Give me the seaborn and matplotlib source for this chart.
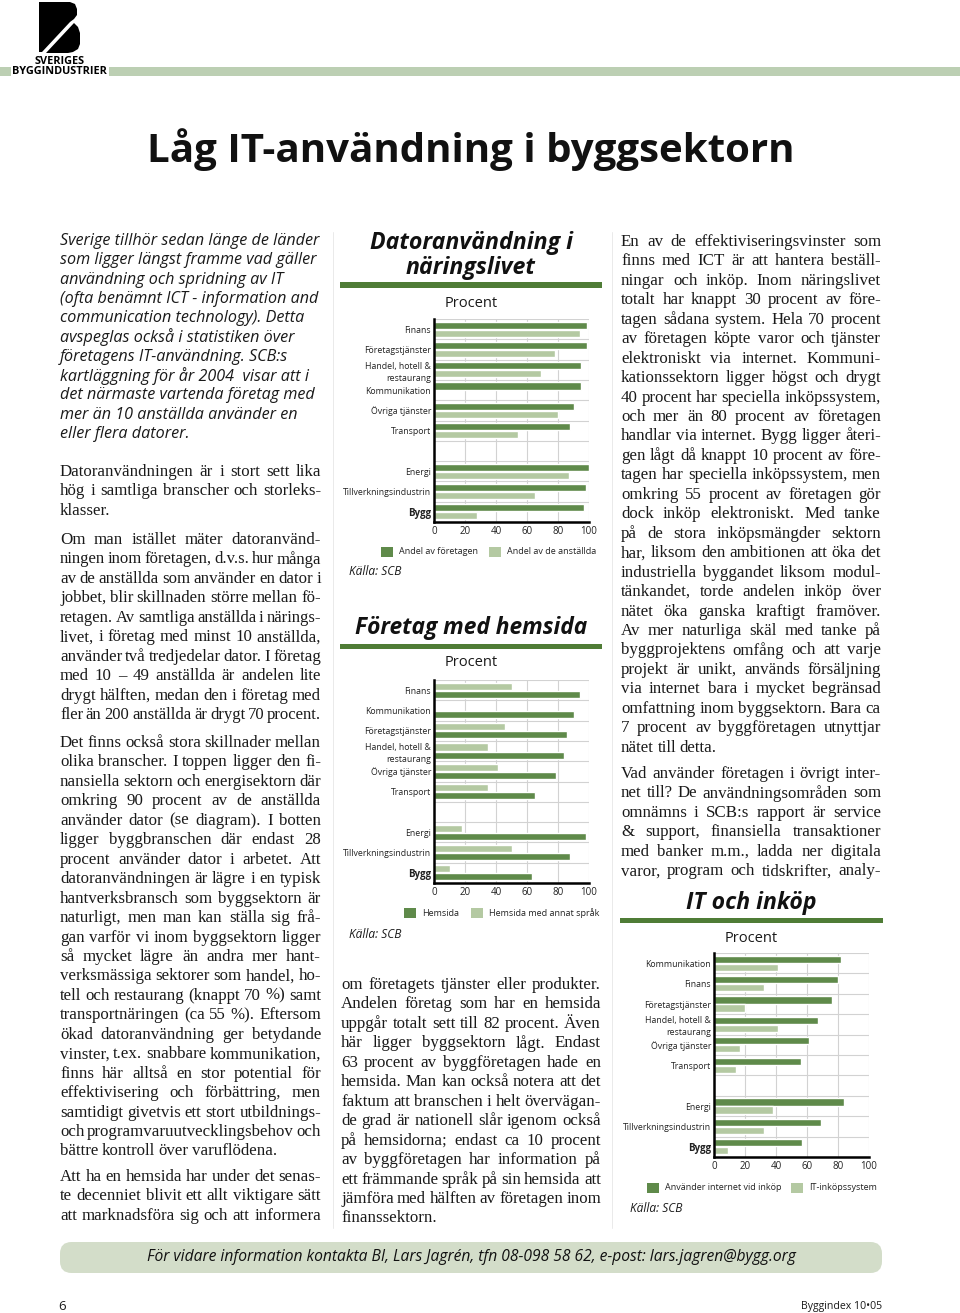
"""Låg IT-användning i byggsektorn: sida med tre stapeldiagram."""

import matplotlib

matplotlib.use("Agg")
import matplotlib.pyplot as plt
from matplotlib.patches import FancyBboxPatch, Polygon, Rectangle
import pandas as pd
import seaborn as sns

W, H = 960, 1313
MORK = "#5f8a4a"
LJUS = "#b4c9a2"
RUBRIKLINJE = "#4f7c36"
BAND = "#bccfb3"
RUTA = "#d3ddc9"
TEXTFARG = "#1a1a1a"
SANS = ["Open Sans", "DejaVu Sans"]
SERIF = ["Liberation Serif", "DejaVu Serif"]

# --- data ---
DATOR_KAT = ["Finans", "Företagstjänster", "Handel, hotell &\nrestaurang", "Kommunikation",
             "Övriga tjänster", "Transport", "Energi", "Tillverkningsindustrin", "Bygg"]
DATOR_FORETAG = [99, 99, 95, 95, 90, 88, 100, 98, 97]
DATOR_ANSTALLDA = [94, 78, 69, None, 80, 54, 87, 65, 28]

HEMSIDA_KAT = ["Finans", "Kommunikation", "Företagstjänster", "Handel, hotell &\nrestaurang",
               "Övriga tjänster", "Transport", "Energi", "Tillverkningsindustrin", "Bygg"]
HEMSIDA = [94, 90, 86, 84, 79, 65, 98, 88, 63]
HEMSIDA_SPRAK = [50, None, 46, 35, 41, 35, 18, 50, 10]

INKOP_KAT = ["Kommunikation", "Finans", "Företagstjänster", "Handel, hotell &\nrestaurang",
             "Övriga tjänster", "Transport", "Energi", "Tillverkningsindustrin", "Bygg"]
INKOP_INTERNET = [82, 80, 76, 67, 61, 56, 84, 69, 57]
INKOP_SYSTEM = [41, 32, 20, 41, 17, 14, 38, 32, 9]

XTICKS = [0, 20, 40, 60, 80, 100]

# --- brödtext ---
INGRESS = [
    "Sverige tillhör sedan länge de länder",
    "som ligger längst framme vad gäller",
    "användning och spridning av IT",
    "(ofta benämnt ICT - information and",
    "communication technology). Detta",
    "avspeglas också i statistiken över",
    "företagens IT-användning. SCB:s",
    "kartläggning för år 2004  visar att i",
    "det närmaste vartenda företag med",
    "mer än 10 anställda använder en",
    "eller flera datorer.",
]

VANSTER = [
    (472, [
        "Datoranvändningen är i stort sett lika",
        "hög i samtliga branscher och storleks-",
        "klasser.",
    ], True),
    (540, [
        "Om man istället mäter datoranvänd-",
        "ningen inom företagen, d.v.s. hur många",
        "av de anställda som använder en dator i",
        "jobbet, blir skillnaden större mellan fö-",
        "retagen. Av samtliga anställda i närings-",
        "livet, i företag med minst 10 anställda,",
        "använder två tredjedelar dator. I företag",
        "med 10 – 49 anställda är andelen lite",
        "drygt hälften, medan den i företag med",
        "fler än 200 anställda är drygt 70 procent.",
    ], True),
    (743, [
        "Det finns också stora skillnader mellan",
        "olika branscher. I toppen ligger den fi-",
        "nansiella sektorn och energisektorn där",
        "omkring 90 procent av de anställda",
        "använder dator (se diagram). I botten",
        "ligger byggbranschen där endast 28",
        "procent använder dator i arbetet.  Att",
        "datoranvändningen är lägre i en typisk",
        "hantverksbransch som byggsektorn är",
        "naturligt, men man kan ställa sig frå-",
        "gan varför vi inom byggsektorn ligger",
        "så mycket lägre än andra mer hant-",
        "verksmässiga sektorer som handel, ho-",
        "tell och restaurang (knappt 70 %) samt",
        "transportnäringen (ca 55 %). Eftersom",
        "ökad datoranvändning ger betydande",
        "vinster, t.ex. snabbare kommunikation,",
        "finns här alltså en stor potential för",
        "effektivisering och förbättring, men",
        "samtidigt givetvis ett stort utbildnings-",
        "och programvaruutvecklingsbehov och",
        "bättre kontroll över varuflödena.",
    ], True),
    (1177, [
        "Att ha en hemsida har under det senas-",
        "te decenniet blivit ett allt viktigare sätt",
        "att marknadsföra sig och att informera",
    ], False),
]

MITTEN = [
    (985, [
        "om företagets tjänster eller produkter.",
        "Andelen företag som har en hemsida",
        "uppgår totalt sett till 82 procent. Även",
        "här ligger byggsektorn lågt. Endast",
        "63 procent av byggföretagen hade en",
        "hemsida. Man kan också notera att det",
        "faktum att branschen i helt övervägan-",
        "de grad är nationell slår igenom också",
        "på hemsidorna; endast ca 10 procent",
        "av byggföretagen har information på",
        "ett främmande språk på sin hemsida att",
        "jämföra med hälften av företagen inom",
        "finanssektorn.",
    ], True),
]

HOGER = [
    (242, [
        "En av de effektiviseringsvinster som",
        "finns med ICT är att hantera beställ-",
        "ningar och inköp. Inom näringslivet",
        "totalt har knappt 30 procent av före-",
        "tagen sådana system. Hela 70 procent",
        "av företagen köpte varor och tjänster",
        "elektroniskt via internet. Kommuni-",
        "kationssektorn ligger högst och drygt",
        "40 procent har speciella inköpssystem,",
        "och mer än 80 procent av företagen",
        "handlar via internet. Bygg ligger återi-",
        "gen lågt då knappt 10 procent av före-",
        "tagen har speciella inköpssystem, men",
        "omkring 55 procent av företagen gör",
        "dock inköp elektroniskt. Med tanke",
        "på de stora inköpsmängder sektorn",
        "har, liksom den ambitionen att öka det",
        "industriella byggandet liksom modul-",
        "tänkandet, torde andelen inköp över",
        "nätet öka ganska kraftigt framöver.",
        "Av mer naturliga skäl med tanke på",
        "byggprojektens omfång och att varje",
        "projekt är unikt, används försäljning",
        "via internet bara i mycket begränsad",
        "omfattning inom byggsektorn. Bara ca",
        "7 procent av byggföretagen utnyttjar",
        "nätet till detta.",
    ], True),
    (774, [
        "Vad använder företagen i övrigt inter-",
        "net till? De användningsområden som",
        "omnämns i SCB:s rapport är service",
        "& support, finansiella transaktioner",
        "med banker m.m., ladda ner digitala",
        "varor, program och tidskrifter, analy-",
    ], False),
]

RADAVSTAND = 19.45
BRODSTORLEK = 12.2
MIN_MELLAN = 2.8

sns.set_style("white")
plt.rcParams["font.family"] = SANS

fig = plt.figure(figsize=(W / 100, H / 100), dpi=100)
fig.patch.set_facecolor("white")
renderer = fig.canvas.get_renderer()


def fy(y):
    return 1 - y / H


def text(x, y, s, **kw):
    kw.setdefault("color", TEXTFARG)
    kw.setdefault("va", "center")
    return fig.text(x / W, fy(y), s, **kw)


def anpassad_text(x, y, s, bredd, **kw):
    t = text(x, y, s, **kw)
    b = t.get_window_extent(renderer).width
    t.set_fontsize(t.get_fontsize() * bredd / b)
    return t


def rektangel(x0, y0, x1, y1, farg, **kw):
    fig.add_artist(Rectangle((x0 / W, fy(y1)), (x1 - x0) / W, (y1 - y0) / H,
                             transform=fig.transFigure, facecolor=farg,
                             edgecolor="none", **kw))


def justerad_rad(x0, x1, y, rad, justera):
    ord_ = rad.split()
    stil = dict(family=SERIF, fontsize=BRODSTORLEK, ha="left")
    texter = [text(x0, y, o, **stil) for o in ord_]
    bredder = [t.get_window_extent(renderer).width for t in texter]
    mellanrum = max(len(ord_) - 1, 1)
    mellan = (x1 - x0 - sum(bredder)) / mellanrum
    if mellan < MIN_MELLAN:
        skala = (x1 - x0 - MIN_MELLAN * mellanrum) / sum(bredder)
        for t in texter:
            t.set_fontsize(BRODSTORLEK * skala)
        bredder = [b * skala for b in bredder]
        mellan = MIN_MELLAN
    if not justera:
        mellan = min(mellan, 3.6)
    x = x0
    for t, b in zip(texter, bredder):
        t.set_x(x / W)
        x += b + mellan


def kolumn(x0, x1, stycken):
    for y_start, rader, sista_slut in stycken:
        for i, rad in enumerate(rader):
            sista = i == len(rader) - 1
            justerad_rad(x0, x1, y_start + i * RADAVSTAND, rad,
                         not (sista and sista_slut))


def rita_diagram(pos, kategorier, serier, ordning_serier):
    vanster, topp, hoger, botten = pos
    ax = fig.add_axes([vanster / W, fy(botten), (hoger - vanster) / W, (botten - topp) / H])
    ordning = kategorier[:6] + [" "] + kategorier[6:]
    rader = []
    for namn, (varden, _) in serier.items():
        for kat, v in zip(kategorier, varden):
            if v is not None:
                rader.append({"kategori": kat, "serie": namn, "procent": v})
    df = pd.DataFrame(rader)
    farger = {namn: farg for namn, (_, farg) in serier.items()}
    sns.barplot(data=df, x="procent", y="kategori", hue="serie", order=ordning,
                hue_order=ordning_serier, palette=farger, orient="h", width=0.8,
                gap=0.12, saturation=1, errorbar=None, legend=False, ax=ax, zorder=2)
    ax.set_xlim(0, 100)
    ax.set_ylim(len(ordning) - 0.5, -0.5)
    for x in XTICKS[1:]:
        ax.axvline(x, color="#d2d2d2", lw=0.8, zorder=0)
    for k in range(len(ordning) + 1):
        ax.axhline(k - 0.5, color="#d2d2d2", lw=0.8, zorder=0)
    for sida in ["top", "right"]:
        ax.spines[sida].set_visible(False)
    for sida in ["left", "bottom"]:
        ax.spines[sida].set_color("black")
        ax.spines[sida].set_linewidth(1.8)
        ax.spines[sida].set_zorder(3)
    ax.set_xticks(XTICKS)
    ax.tick_params(axis="both", length=0, labelsize=6.3, colors="#222222")
    ax.tick_params(axis="x", pad=3, labelsize=7)
    ax.tick_params(axis="y", pad=2)
    ax.set_xlabel("")
    ax.set_ylabel("")
    for t in ax.get_yticklabels():
        t.set_linespacing(1.4)
        if t.get_text() == "Bygg":
            t.set_fontweight("bold")
            t.set_fontsize(7)
    ax.set_facecolor("none")
    return ax


def forklaring(y, poster):
    for x0, etikett, farg in poster:
        rektangel(x0, y - 5, x0 + 12, y + 5, farg)
        text(x0 + 18, y, etikett, fontsize=6.5, color="#222222")


def rubrik(cx, rader, linje):
    for y, s, bredd in rader:
        anpassad_text(cx, y, s, bredd, ha="center", fontsize=14, fontweight="bold",
                      fontstyle="italic", color="#111111")
    x0, x1, yl = linje
    rektangel(x0, yl - 2.5, x1, yl + 2.5, RUBRIKLINJE)


# --- sidhuvud med logotyp ---
rektangel(0, 67, 11, 76, BAND)
rektangel(109, 67, W, 76, BAND)
logga_v = [(39, 2), (70, 2), (75, 4), (77, 9), (77, 15), (74, 19), (70, 22),
           (42, 52), (39, 52)]
logga_h = [(74, 23), (78, 27), (80, 33), (80, 44), (78, 49), (73, 52), (68, 53), (46, 53)]
for pts in (logga_v, logga_h):
    fig.add_artist(Polygon([(x / W, fy(y)) for x, y in pts], closed=True,
                           transform=fig.transFigure, facecolor="black", edgecolor="none"))
anpassad_text(60, 61, "SVERIGES", 50, ha="center", fontsize=8, fontweight="bold", color="black")
anpassad_text(59, 72, "BYGGINDUSTRIER", 95, ha="center", fontsize=8, fontweight="bold",
              color="black")

anpassad_text(471, 150, "Låg IT-användning i byggsektorn", 647, ha="center",
              fontsize=30, fontweight="bold", color="#111111")

# --- kolumnlinjer ---
for xk in (333, 612):
    fig.add_artist(plt.Line2D([xk / W, xk / W], [fy(232), fy(1228)], transform=fig.transFigure,
                              color="#e6e6e6", lw=0.6))

# --- text ---
for i, rad in enumerate(INGRESS):
    text(60, 241 + i * 19.3, rad, fontsize=11.6, fontstyle="italic", ha="left")
kolumn(60, 321, VANSTER)
kolumn(341, 601, MITTEN)
kolumn(621, 881, HOGER)

# --- diagram 1 ---
rubrik(471, [(243, "Datoranvändning i", 204), (268, "näringslivet", 130)], (340, 602, 285))
text(471, 303, "Procent", fontsize=10.5, ha="center")
rita_diagram((434, 319, 589, 522), DATOR_KAT,
             {"Andel av företagen": (DATOR_FORETAG, MORK),
              "Andel av de anställda": (DATOR_ANSTALLDA, LJUS)},
             ["Andel av företagen", "Andel av de anställda"])
forklaring(552, [(381, "Andel av företagen", MORK), (489, "Andel av de anställda", LJUS)])
text(349, 572, "Källa: SCB", fontsize=8.6, fontstyle="italic", ha="left")

# --- diagram 2 ---
rubrik(471, [(628, "Företag med hemsida", 233)], (340, 602, 646))
text(471, 663, "Procent", fontsize=10.5, ha="center")
rita_diagram((434, 680, 589, 883), HEMSIDA_KAT,
             {"Hemsida": (HEMSIDA, MORK),
              "Hemsida med annat språk": (HEMSIDA_SPRAK, LJUS)},
             ["Hemsida med annat språk", "Hemsida"])
forklaring(913, [(404, "Hemsida", MORK), (471, "Hemsida med annat språk", LJUS)])
text(349, 934, "Källa: SCB", fontsize=8.6, fontstyle="italic", ha="left")

# --- diagram 3 ---
rubrik(751, [(903, "IT och inköp", 131)], (620, 883, 920))
text(751, 938, "Procent", fontsize=10.5, ha="center")
rita_diagram((714, 953, 869, 1157), INKOP_KAT,
             {"Använder internet vid inköp": (INKOP_INTERNET, MORK),
              "IT-inköpssystem": (INKOP_SYSTEM, LJUS)},
             ["Använder internet vid inköp", "IT-inköpssystem"])
forklaring(1188, [(647, "Använder internet vid inköp", MORK), (791, "IT-inköpssystem", LJUS)])
text(630, 1208, "Källa: SCB", fontsize=8.6, fontstyle="italic", ha="left")

# --- sidfot ---
fig.add_artist(FancyBboxPatch((60 / W, fy(1273)), (882 - 60) / W, 31 / H,
                              boxstyle="round,pad=0,rounding_size=0.012",
                              transform=fig.transFigure, facecolor=RUTA, edgecolor="none",
                              mutation_aspect=W / H))
anpassad_text(471, 1257, "För vidare information kontakta BI, Lars Jagrén, tfn 08-098 58 62, "
              "e-post: lars.jagren@bygg.org", 652, ha="center", fontsize=10.5,
              fontstyle="italic", color="#111111")
text(58, 1306, "6", fontsize=9.5, ha="left")
text(882, 1306, "Byggindex 10•05", fontsize=7.6, ha="right")

fig.savefig("out.png", dpi=100)
plt.close(fig)
